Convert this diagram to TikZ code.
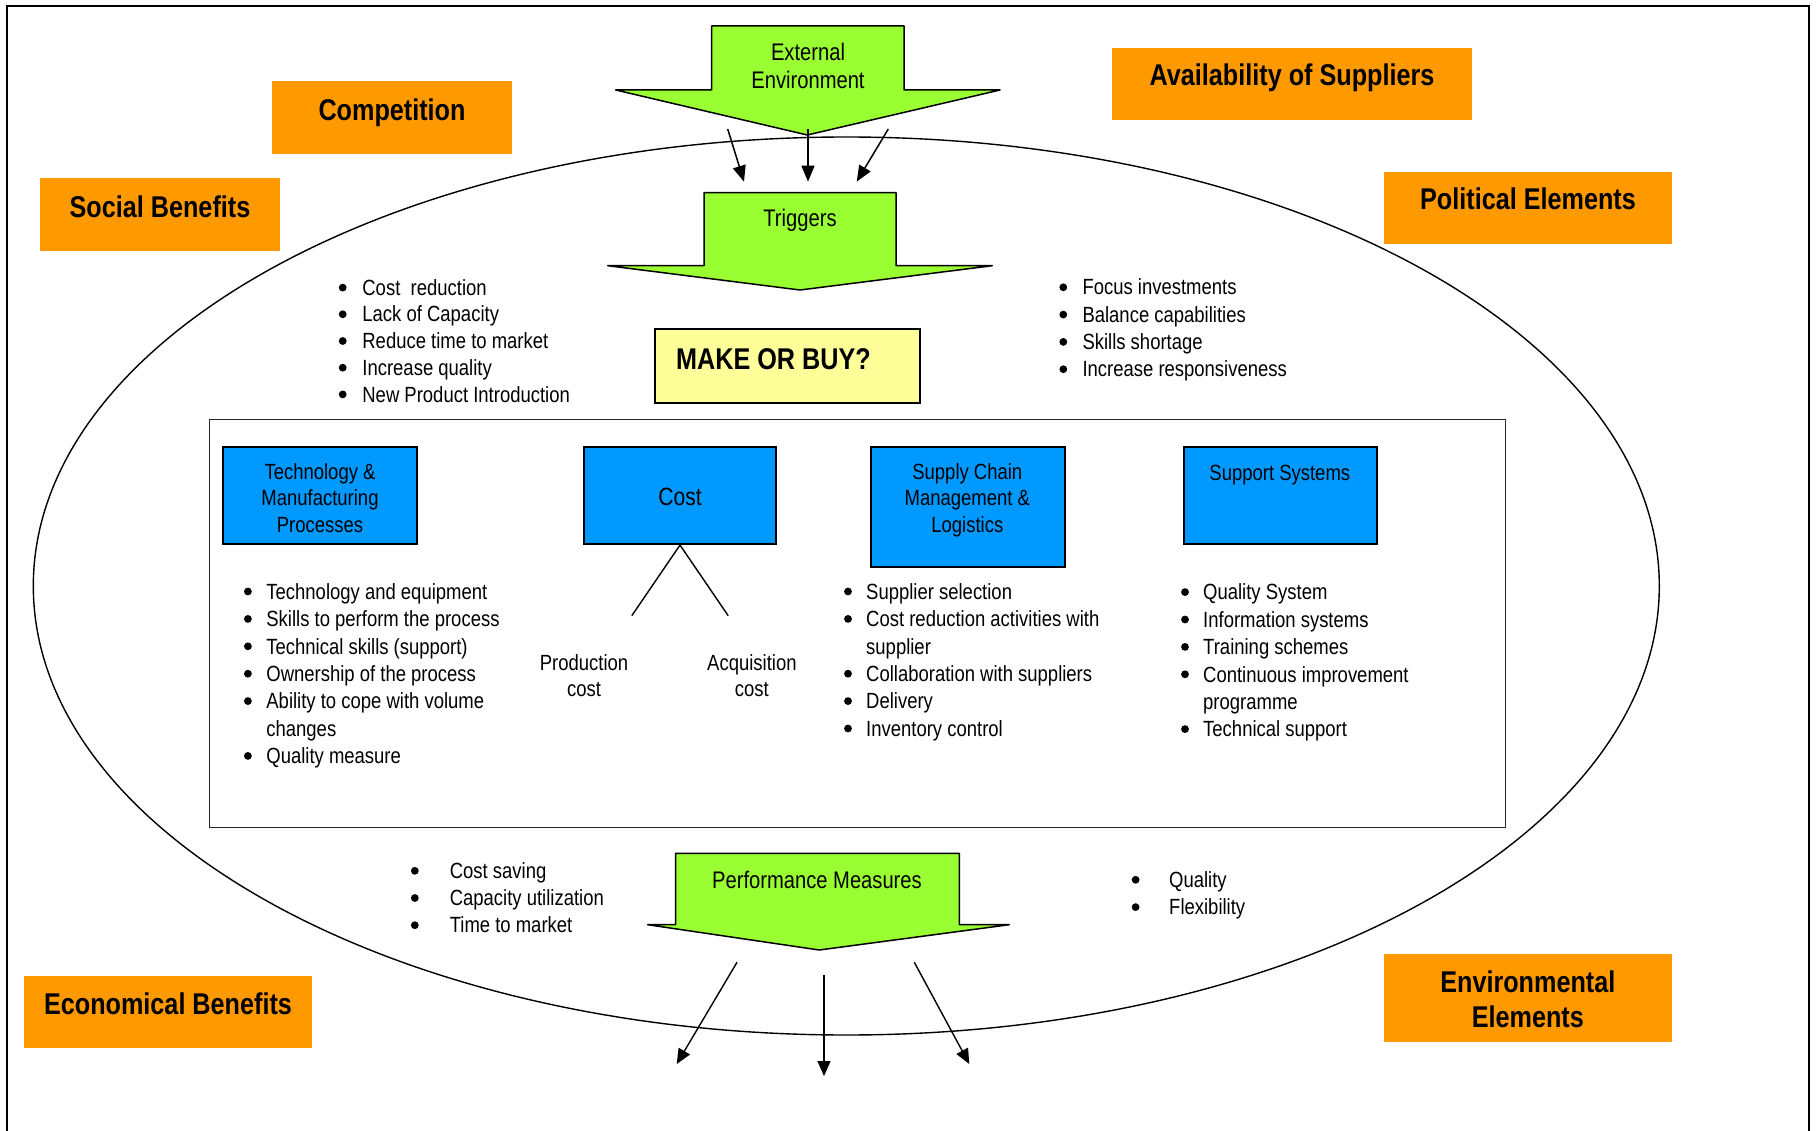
\documentclass[tikz,border=0pt]{standalone}
\usepackage{fontspec}
\setmainfont{Liberation Sans}[FakeStretch=0.84]
\usetikzlibrary{arrows.meta}

\definecolor{boxorange}{HTML}{FF9900}
\definecolor{boxblue}{HTML}{0099FF}
\definecolor{arrowgreen}{HTML}{99FF33}
\definecolor{askyellow}{HTML}{FFFF99}

\newcommand{\cell}[1]{\begin{tabular}[t]{@{}c@{}}#1\end{tabular}}
\newcommand{\rows}[1]{\begin{tabular}[t]{@{}l@{}}#1\end{tabular}}
% round list bullets: x, first baseline, line pitch, bulleted rows
\newcommand{\listdots}[4]{%
  \foreach \k in {#4} \fill ({#1},{#2+\k*#3-7.7}) circle[radius=3.9pt];}

\begin{document}
\begin{tikzpicture}[x=1pt,y=-1pt,
  orangebox/.style={fill=boxorange, draw=none, inner sep=0pt},
  bluebox/.style={fill=boxblue, draw=black, line width=2pt, inner sep=0pt},
  askbox/.style={fill=askyellow, draw=black, line width=2pt, inner sep=0pt},
  bigarrow/.style={fill=arrowgreen, draw=black, line width=1.5pt, line join=round},
  headline/.style={font=\fontsize{30}{35}\selectfont\bfseries, inner sep=0pt, anchor=base},
  plain/.style={font=\fontsize{22}{26.2}\selectfont, inner sep=0pt, anchor=base},
  arrowtext/.style={font=\fontsize{24}{28}\selectfont, inner sep=0pt, anchor=base},
  listtext/.style={inner sep=0pt, anchor=base west},
  flow/.style={line width=1.5pt, -{Triangle[length=16pt,width=13pt]}},
  outflow/.style={line width=1.4pt, -{Triangle[length=15pt,width=13pt]}},
]
\useasboundingbox (0,0) rectangle (1817,1131);

% outer frame (open at the bottom edge of the page)
\draw[line width=2pt] (7.3,1150) -- (7.3,6) -- (1809.3,6) -- (1809.3,1150);

% environment ellipse
\draw[line width=1.4pt] (846.3,586) ellipse [x radius=813pt, y radius=449pt];

% surrounding factors
\node[orangebox, minimum width=240pt, minimum height=73pt] (comp) at (392,117.5) {};
\node[headline] (compT) at (392,121) {Competition};
\node[orangebox, minimum width=240pt, minimum height=73pt] (soc) at (160,214.2) {};
\node[headline] (socT) at (160,218) {Social Benefits};
\node[orangebox, minimum width=360pt, minimum height=71.7pt] (avail) at (1292,83.8) {};
\node[headline] (availT) at (1292,86) {Availability of Suppliers};
\node[orangebox, minimum width=288pt, minimum height=71.7pt] (polit) at (1528,207.8) {};
\node[headline] (politT) at (1528,209.5) {Political Elements};
\node[orangebox, minimum width=288pt, minimum height=72pt] (econ) at (168,1012) {};
\node[headline] (econT) at (168,1014) {Economical Benefits};
\node[orangebox, minimum width=288.5pt, minimum height=87.7pt] (env) at (1527.8,997.8) {};
\node[headline] (envT) at (1527.8,992) {\cell{Environmental\\[0pt]Elements}};

% external environment arrow
\draw[bigarrow] (711.7,26) -- (904,26) -- (904,90) -- (1000,90) -- (807.3,135)
  -- (615.7,90) -- (711.7,90) -- cycle;
\node[arrowtext] (extT) at (808,60.5) {\cell{External\\Environment}};

% triggers arrow
\draw[bigarrow] (704,192.7) -- (896,192.7) -- (896,265.7) -- (992.3,265.7) -- (800,290)
  -- (607.7,265.7) -- (704,265.7) -- cycle;
\node[arrowtext] (trigT) at (800,227) {Triggers};

% influence of the environment on the triggers
\coordinate (eL) at (727.7,129);  \coordinate (tL) at (744,181.7);
\coordinate (eM) at (808,129);    \coordinate (tM) at (808,181.7);
\coordinate (eR) at (888.3,129);  \coordinate (tR) at (856.7,181.7);
\draw[flow] (eL) -- (tL);
\draw[flow] (eM) -- (tM);
\draw[flow] (eR) -- (tR);

% trigger lists
\node[listtext, font=\fontsize{22}{26.7}\selectfont] (trigL) at (362.2,295.3) {\rows{%
Cost\ \ reduction\\
Lack of Capacity\\
Reduce time to market\\
Increase quality\\
New Product Introduction}};
\listdots{342.7}{295.3}{26.7}{0,1,2,3,4}
\node[listtext, font=\fontsize{22}{27.3}\selectfont] (trigR) at (1082.3,295) {\rows{%
Focus investments\\
Balance capabilities\\
Skills shortage\\
Increase responsiveness}};
\listdots{1063.3}{295}{27.3}{0,1,2,3}

% the decision
\node[askbox, minimum width=265pt, minimum height=73.4pt] (make) at (787.8,366) {};
\node[font=\fontsize{30}{35}\selectfont\bfseries, inner sep=0pt, anchor=base west] (makeT) at (676,370) {MAKE OR BUY?};

% decision areas
\draw[line width=1.6pt, draw=black!85] (209.5,419.3) rectangle (1505.3,827.3);

\node[bluebox, minimum width=193.3pt, minimum height=97.3pt] (tech) at (320,495.4) {};
\node[plain] (techT) at (320,479.6) {\cell{Technology \&\\Manufacturing\\Processes}};
\node[bluebox, minimum width=192.8pt, minimum height=97.3pt] (cost) at (680,495.4) {};
\node[plain, font=\fontsize{25}{28}\selectfont] (costT) at (680,505.6) {Cost};
\node[bluebox, minimum width=193.3pt, minimum height=120pt] (scm) at (968,506.7) {};
\node[plain] (scmT) at (967.3,479.6) {\cell{Supply Chain\\Management \&\\Logistics}};
\node[bluebox, minimum width=192.9pt, minimum height=97.3pt] (supp) at (1280.3,495.4) {};
\node[plain] (suppT) at (1279.8,480.5) {Support Systems};

% cost breakdown
\coordinate (pcTop) at (631.8,615.7);
\coordinate (acTop) at (728.2,615.7);
\draw[line width=1.4pt] (cost.south) -- (pcTop);
\draw[line width=1.4pt] (cost.south) -- (acTop);
\node[plain, font=\fontsize{22}{26}\selectfont] (pc) at (584,670.7) {\cell{Production\\cost}};
\node[plain, font=\fontsize{22}{26}\selectfont] (ac) at (751.9,670.7) {\cell{Acquisition\\cost}};

% area lists
\node[listtext, font=\fontsize{22}{27.4}\selectfont] (techL) at (266.2,599.2) {\rows{%
Technology and equipment\\
Skills to perform the process\\
Technical skills (support)\\
Ownership of the process\\
Ability to cope with volume\\
changes\\
Quality measure}};
\listdots{247.9}{599.2}{27.4}{0,1,2,3,4,6}
\node[listtext, font=\fontsize{22}{27.4}\selectfont] (scmL) at (866,599.2) {\rows{%
Supplier selection\\
Cost reduction activities with\\
supplier\\
Collaboration with suppliers\\
Delivery\\
Inventory control}};
\listdots{848}{599.2}{27.4}{0,1,3,4,5}
\node[listtext, font=\fontsize{22}{27.4}\selectfont] (suppL) at (1203,599.8) {\rows{%
Quality System\\
Information systems\\
Training schemes\\
Continuous improvement\\
programme\\
Technical support}};
\listdots{1185}{599.8}{27.4}{0,1,2,3,5}

% performance measures arrow
\draw[bigarrow] (675.5,853.3) -- (959.4,853.3) -- (959.4,924.7) -- (1009.3,924.7) -- (819.2,950)
  -- (647.7,924.7) -- (675.5,924.7) -- cycle;
\node[arrowtext] (perfT) at (817,888.5) {Performance Measures};

\node[listtext, font=\fontsize{22}{27.2}\selectfont] (perfL) at (449.6,878.5) {\rows{%
Cost saving\\
Capacity utilization\\
Time to market}};
\listdots{414.8}{878.5}{27.2}{0,1,2}
\node[listtext, font=\fontsize{22}{27.3}\selectfont] (perfR) at (1169,887.5) {\rows{%
Quality\\
Flexibility}};
\listdots{1135.6}{887.5}{27.3}{0,1}

% outcomes leaving the system
\coordinate (oL) at (737,962.3);   \coordinate (xL) at (676.7,1064);
\coordinate (oM) at (824,975.3);   \coordinate (xM) at (824,1076);
\coordinate (oR) at (914.3,962.3); \coordinate (xR) at (969.3,1064);
\draw[outflow] (oL) -- (xL);
\draw[outflow] (oM) -- (xM);
\draw[outflow] (oR) -- (xR);
\end{tikzpicture}
\end{document}
